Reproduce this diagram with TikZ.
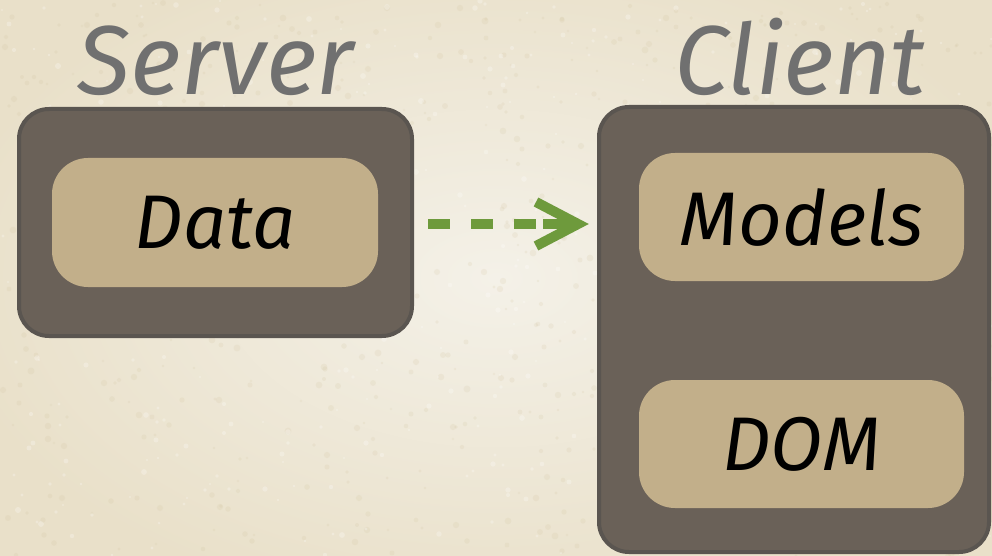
\documentclass[tikz,border=0pt]{standalone}
\usepackage{fontspec}
\setsansfont{Fira Sans}
\usetikzlibrary{shapes.misc}
\definecolor{bgin}{HTML}{F4F1E8}
\definecolor{bgout}{HTML}{E9E0C9}
\definecolor{speck}{HTML}{CFC09A}
\definecolor{boxfill}{HTML}{6A6158}
\definecolor{boxline}{HTML}{5A5550}
\definecolor{tan}{HTML}{C2AF8A}
\definecolor{labelgray}{HTML}{707070}
\definecolor{arrowgreen}{HTML}{6E9A3C}
\tikzset{
  outerbox/.style={draw=boxline, fill=boxfill, line width=4pt, rounded corners=30pt, inner sep=0pt},
  innerbox/.style={fill=tan, rounded corners=36pt, inner sep=0pt,
     font=\sffamily\itshape\fontsize{76}{76}\selectfont, text=black},
  title/.style={font=\sffamily\itshape\fontsize{98}{98}\selectfont, text=labelgray, inner sep=0pt, anchor=base},
  flow/.style={draw=arrowgreen, line width=10pt}
}
\begin{document}
\begin{tikzpicture}[x=1pt,y=-1pt]
\useasboundingbox (0,0) rectangle (992,556);
\shade[inner color=bgin, outer color=bgout] (-60,-60) rectangle (1052,616);
\pgfmathsetseed{7}
\foreach \i in {1,...,700}{
  \pgfmathsetmacro{\px}{random(0,992)}
  \pgfmathsetmacro{\py}{random(0,556)}
  \pgfmathsetmacro{\pr}{1+2.5*rnd}
  \fill[speck, opacity=0.16] (\px,\py) circle[radius=\pr];
}
\foreach \i in {1,...,400}{
  \pgfmathsetmacro{\px}{random(0,992)}
  \pgfmathsetmacro{\py}{random(0,556)}
  \pgfmathsetmacro{\pr}{1+2*rnd}
  \fill[white, opacity=0.25] (\px,\py) circle[radius=\pr];
}
% boxes
\node[outerbox, minimum width=393pt, minimum height=227pt] (server) at (215.5,222.5) {};
\node[outerbox, minimum width=390pt, minimum height=445pt] (client) at (794,329.5) {};
\node[innerbox, minimum width=326pt, minimum height=129pt] (data) at (215,222.5) {\raisebox{-2pt}{Data}};
\node[innerbox, minimum width=325pt, minimum height=128pt] (models) at (801.5,217) {Models};
\node[innerbox, minimum width=325pt, minimum height=128pt] (dom) at (801.5,444) {DOM};
% titles
\node[title] (servertitle) at (216,95) {Server};
\node[title] (clienttitle) at (800,95) {Client};
% arrow
\coordinate (a0) at ([xshift=14pt,yshift=-1.5pt]server.east);
\coordinate (a1) at ([xshift=-61pt]client.west |- a0);
\coordinate (tip) at ([xshift=-19pt]client.west |- a0);
\draw[flow, dash pattern=on 22pt off 21pt] (a0) -- (a1);
\draw[flow] ([xshift=-35pt]tip) -- ([xshift=-3pt]tip);
\draw[flow, line join=miter, miter limit=4] ([xshift=-42pt,yshift=-22pt]tip) -- (tip) -- ([xshift=-42pt,yshift=22pt]tip);
\end{tikzpicture}
\end{document}
